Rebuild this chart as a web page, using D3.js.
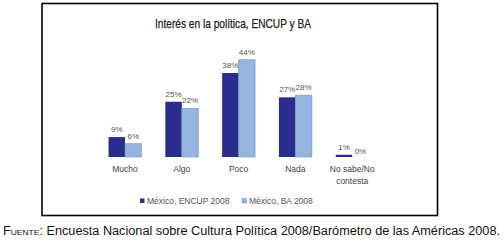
<!DOCTYPE html>
<html>
<head>
<meta charset="utf-8">
<script src="https://cdn.jsdelivr.net/npm/d3@7"></script>
<style>
  body { margin: 0; background: #fff; }
  svg text { font-family: "Liberation Sans", Arial, sans-serif; }
</style>
</head>
<body>
<svg id="chart" width="504" height="242"></svg>
<script>
// categorías y series
const categories = ["Mucho", "Algo", "Poco", "Nada", "No sabe/No contesta"];
const seriesNames = ["México, ENCUP 2008", "México, BA 2008"];
const encup = [9, 25, 38, 27, 1];
const ba = [6, 22, 44, 28, 0];
const colors = ["#2b2d8c", "#95b4de"];

const svg = d3.select("#chart");

// marco
svg.append("rect")
    .attr("x", 42).attr("y", 3.5)
    .attr("width", 395.5).attr("height", 212)
    .attr("fill", "#fff")
    .attr("stroke", "#000")
    .attr("stroke-width", 1.6);

svg.append("text")
    .attr("x", 233).attr("y", 28)
    .attr("text-anchor", "middle")
    .attr("font-size", 13)
    .attr("fill", "#222")
    .attr("stroke", "#222")
    .attr("stroke-width", 0.25)
    .attr("textLength", 156)
    .attr("lengthAdjust", "spacingAndGlyphs")
    .text("Interés en la política, ENCUP y BA");

const baseY = 157;
const x = d3.scaleBand()
    .domain(categories)
    .range([96.6, 380.6])
    .paddingInner(0.42)
    .paddingOuter(0.21);
const x1 = d3.scaleBand()
    .domain([0, 1])
    .range([0, x.bandwidth()]);
const y = d3.scaleLinear()
    .domain([0, 50])
    .range([baseY, baseY - 110.5]);

const data = categories.map((c, i) => ({cat: c, vals: [encup[i], ba[i]]}));

const groups = svg.selectAll("g.grp")
    .data(data)
    .join("g")
    .attr("class", "grp")
    .attr("transform", d => `translate(${x(d.cat)},0)`);

groups.selectAll("rect")
    .data(d => d.vals.map((v, s) => ({v, s})))
    .join("rect")
    .attr("x", d => x1(d.s))
    .attr("y", d => y(d.v))
    .attr("width", x1.bandwidth())
    .attr("height", d => baseY - y(d.v))
    .attr("fill", d => colors[d.s])
    .attr("stroke", d => d.s ? "#7290c0" : "none")
    .attr("stroke-width", 0.6);

// etiquetas de valor
groups.selectAll("text.val")
    .data(d => d.vals.map((v, s) => ({v, s})))
    .join("text")
    .attr("class", "val")
    .attr("x", d => x1(d.s) + x1.bandwidth() / 2)
    .attr("y", d => y(d.v) - (d.v === 0 ? 3 : 5))
    .attr("text-anchor", "middle")
    .attr("font-size", 8)
    .attr("fill", "#555")
    .text(d => d.v + "%");

// etiquetas de categoría
const catLabels = svg.selectAll("text.cat")
    .data(categories)
    .join("text")
    .attr("class", "cat")
    .attr("x", d => x(d) + x.bandwidth() / 2)
    .attr("y", 172)
    .attr("text-anchor", "middle")
    .attr("font-size", 8.5)
    .attr("fill", "#444");
catLabels.each(function (d) {
    const parts = d === "No sabe/No contesta" ? ["No sabe/No", "contesta"] : [d];
    d3.select(this).selectAll("tspan")
        .data(parts)
        .join("tspan")
        .attr("x", x(d) + x.bandwidth() / 2)
        .attr("dy", (p, i) => i ? 11.5 : 0)
        .text(p => p);
});

// leyenda
const legendX = [140, 242];
const leg = svg.selectAll("g.leg")
    .data(seriesNames)
    .join("g")
    .attr("class", "leg")
    .attr("transform", (d, i) => `translate(${legendX[i]},198)`);
leg.append("rect")
    .attr("x", 0).attr("y", 0.5)
    .attr("width", 4.5).attr("height", 4.5)
    .attr("fill", (d, i) => colors[i])
    .attr("stroke", (d, i) => i ? "#7290c0" : "none")
    .attr("stroke-width", 0.5);
leg.append("text")
    .attr("x", 7).attr("y", 6)
    .attr("font-size", 8.5)
    .attr("fill", "#555")
    .text(d => d);

// fuente
const src = svg.append("text")
    .attr("x", 3).attr("y", 235)
    .attr("font-size", 12)
    .attr("fill", "#111")
    .attr("textLength", 497)
    .attr("lengthAdjust", "spacingAndGlyphs");
src.append("tspan").attr("font-variant", "small-caps").text("Fuente:");
src.append("tspan").text(" Encuesta Nacional sobre Cultura Política 2008/Barómetro de las Américas 2008.");
</script>
</body>
</html>
